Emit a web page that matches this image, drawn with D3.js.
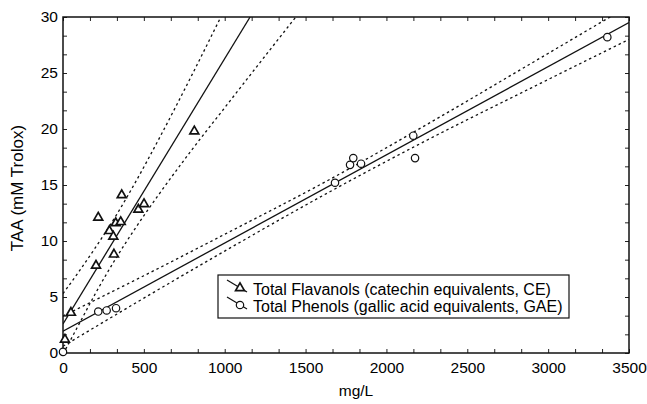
<!DOCTYPE html>
<html>
<head>
<meta charset="utf-8">
<script src="https://cdn.jsdelivr.net/npm/d3@7"></script>
<style>
  html, body { margin: 0; padding: 0; background: #fff; overflow: hidden; }
  svg { display: block; }
  text { font-family: 'Liberation Sans', Arial, sans-serif; fill: #000; }
</style>
</head>
<body>
<svg width="647" height="404"></svg>
<script>
// values
const flavanolX = [12, 49, 204, 218, 287, 311, 315, 326, 357, 363, 466, 501, 812];
const flavanolY = [1.2, 3.6, 7.8, 12.1, 10.9, 10.4, 8.8, 11.6, 11.7, 14.1, 12.8, 13.3, 19.8];
const phenolX = [0, 218, 270, 328, 1682, 1775, 1795, 1843, 2166, 2177, 3366];
const phenolY = [0.1, 3.7, 3.8, 4.0, 15.2, 16.8, 17.4, 16.9, 19.4, 17.4, 28.2];

// regression lines (end points) and confidence bands
const fitFlavanolX = [0, 1157];
const fitFlavanolY = [2.6, 30];
const fitPhenolX = [0, 3500];
const fitPhenolY = [1.95, 29.5];

const bandFlavanolX = [0, 100, 200, 325, 450, 600, 800, 1000, 1200, 1445];
const bandFlavanolUp = [5.3, 7.3, 9.4, 12.2, 15.3, 19.3, 24.9, 30.7, 36.5, 43.7];
const bandFlavanolLo = [-0.1, 2.6, 5.3, 8.4, 11.2, 14.3, 18.2, 21.9, 25.6, 30.1];
const bandPhenolX = [0, 500, 1000, 1650, 2250, 2900, 3500];
const bandPhenolUp = [3.3, 6.9, 10.6, 15.5, 20.4, 25.9, 31.0];
const bandPhenolLo = [0.6, 4.9, 9.1, 14.4, 19.0, 23.7, 28.0];

const xTickLabels = [0, 500, 1000, 1500, 2000, 2500, 3000, 3500];
const yTickLabels = [0, 5, 10, 15, 20, 25, 30];
const legendLabels = [
    'Total Flavanols (catechin equivalents, CE)',
    'Total Phenols (gallic acid equivalents, GAE)'
];

const svg = d3.select('svg');
const margin = { top: 17, right: 18, bottom: 51, left: 63 };
const innerWidth = 647 - margin.left - margin.right;
const innerHeight = 404 - margin.top - margin.bottom;

const xScale = d3.scaleLinear().domain([0, 3500]).range([0, innerWidth]);
const yScale = d3.scaleLinear().domain([0, 30]).range([innerHeight, 0]);

const g = svg.append('g')
    .attr('transform', `translate(${margin.left},${margin.top})`);

g.append('clipPath').attr('id', 'plot')
  .append('rect').attr('width', innerWidth).attr('height', innerHeight);

// small inward ticks on all four sides, 3 per labelled interval
const xMinor = d3.range(0, 3500.1, 500 / 3);
const yMinor = d3.range(0, 30.01, 5 / 3);
const tickG = g.append('g').attr('class', 'ticks');
tickG.append('g').attr('transform', `translate(0,${innerHeight})`)
    .call(d3.axisBottom(xScale).tickValues(xMinor).tickSize(-4));
tickG.append('g')
    .call(d3.axisTop(xScale).tickValues(xMinor).tickSize(-4));
tickG.append('g')
    .call(d3.axisLeft(yScale).tickValues(yMinor).tickSize(-4));
tickG.append('g').attr('transform', `translate(${innerWidth},0)`)
    .call(d3.axisRight(yScale).tickValues(yMinor).tickSize(-4));
tickG.selectAll('.domain').remove();
tickG.selectAll('text').remove();
tickG.selectAll('line').attr('stroke', '#222').attr('stroke-width', 1);

// labelled axes
const xAxisG = g.append('g').attr('transform', `translate(0,${innerHeight})`)
    .call(d3.axisBottom(xScale).tickValues(xTickLabels).tickFormat(d3.format('d'))
        .tickSize(0).tickPadding(9));
const yAxisG = g.append('g')
    .call(d3.axisLeft(yScale).tickValues(yTickLabels).tickFormat(d3.format('d'))
        .tickSize(0).tickPadding(5));
[xAxisG, yAxisG].forEach(a => {
    a.select('.domain').remove();
    a.selectAll('text').style('font-size', '15.5px')
        .style('font-family', "'Liberation Sans', Arial, sans-serif").attr('fill', '#000');
});

// lines
const plotArea = g.append('g').attr('clip-path', 'url(#plot)');
const zip = (xs, ys) => xs.map((x, i) => [x, ys[i]]);
const line = d3.line().x(d => xScale(d[0])).y(d => yScale(d[1]));
const curve = d3.line().x(d => xScale(d[0])).y(d => yScale(d[1])).curve(d3.curveMonotoneX);

[[bandFlavanolX, bandFlavanolUp], [bandFlavanolX, bandFlavanolLo],
 [bandPhenolX, bandPhenolUp], [bandPhenolX, bandPhenolLo]].forEach(([xs, ys]) => {
    plotArea.append('path')
        .attr('d', curve(zip(xs, ys)))
        .attr('fill', 'none').attr('stroke', '#111')
        .attr('stroke-width', 1.3).attr('stroke-dasharray', '2.5,3');
});
[[fitFlavanolX, fitFlavanolY], [fitPhenolX, fitPhenolY]].forEach(([xs, ys]) => {
    plotArea.append('path')
        .attr('d', line(zip(xs, ys)))
        .attr('fill', 'none').attr('stroke', '#111').attr('stroke-width', 1.3);
});

// frame
g.append('rect').attr('width', innerWidth).attr('height', innerHeight)
    .attr('fill', 'none').attr('stroke', '#111').attr('stroke-width', 1.5);

// markers
const tri = d3.symbol().type(d3.symbolTriangle).size(34);
g.selectAll('.tri').data(zip(flavanolX, flavanolY))
  .enter().append('path').attr('class', 'tri')
    .attr('d', tri)
    .attr('transform', d => `translate(${xScale(d[0])},${yScale(d[1])})`)
    .attr('fill', 'white').attr('stroke', '#111').attr('stroke-width', 1.7);

g.selectAll('.circ').data(zip(phenolX, phenolY))
  .enter().append('circle').attr('class', 'circ')
    .attr('cx', d => xScale(d[0])).attr('cy', d => yScale(d[1]))
    .attr('r', 3.7)
    .attr('fill', 'white').attr('stroke', '#111').attr('stroke-width', 1.2);

// legend
const legend = svg.append('g').attr('transform', 'translate(218,275)');
legend.append('rect').attr('width', 351).attr('height', 43)
    .attr('fill', 'white').attr('stroke', '#111').attr('stroke-width', 1.2);
legendLabels.forEach((label, i) => {
    const row = legend.append('g').attr('transform', `translate(0,${5 + i * 17})`);
    row.append('line').attr('x1', 9).attr('y1', 0).attr('x2', 29).attr('y2', 12)
        .attr('stroke', '#111').attr('stroke-width', 1.2);
    if (i === 0) {
        row.append('path').attr('d', tri)
            .attr('transform', 'translate(22,8)')
            .attr('fill', 'white').attr('stroke', '#111').attr('stroke-width', 1.7);
    } else {
        row.append('circle').attr('cx', 22).attr('cy', 8).attr('r', 3.7)
            .attr('fill', 'white').attr('stroke', '#111').attr('stroke-width', 1.2);
    }
    row.append('text').attr('x', 35).attr('y', 14.5)
        .style('font-size', '16px')
        .text(label);
});

// axis titles
svg.append('text')
    .attr('x', 356).attr('y', 396)
    .attr('text-anchor', 'middle')
    .style('font-size', '15.5px')
    .text('mg/L');

svg.append('text')
    .attr('transform', 'translate(23,188) rotate(-90)')
    .attr('text-anchor', 'middle')
    .style('font-size', '17px')
    .text('TAA (mM Trolox)');
</script>
</body>
</html>
